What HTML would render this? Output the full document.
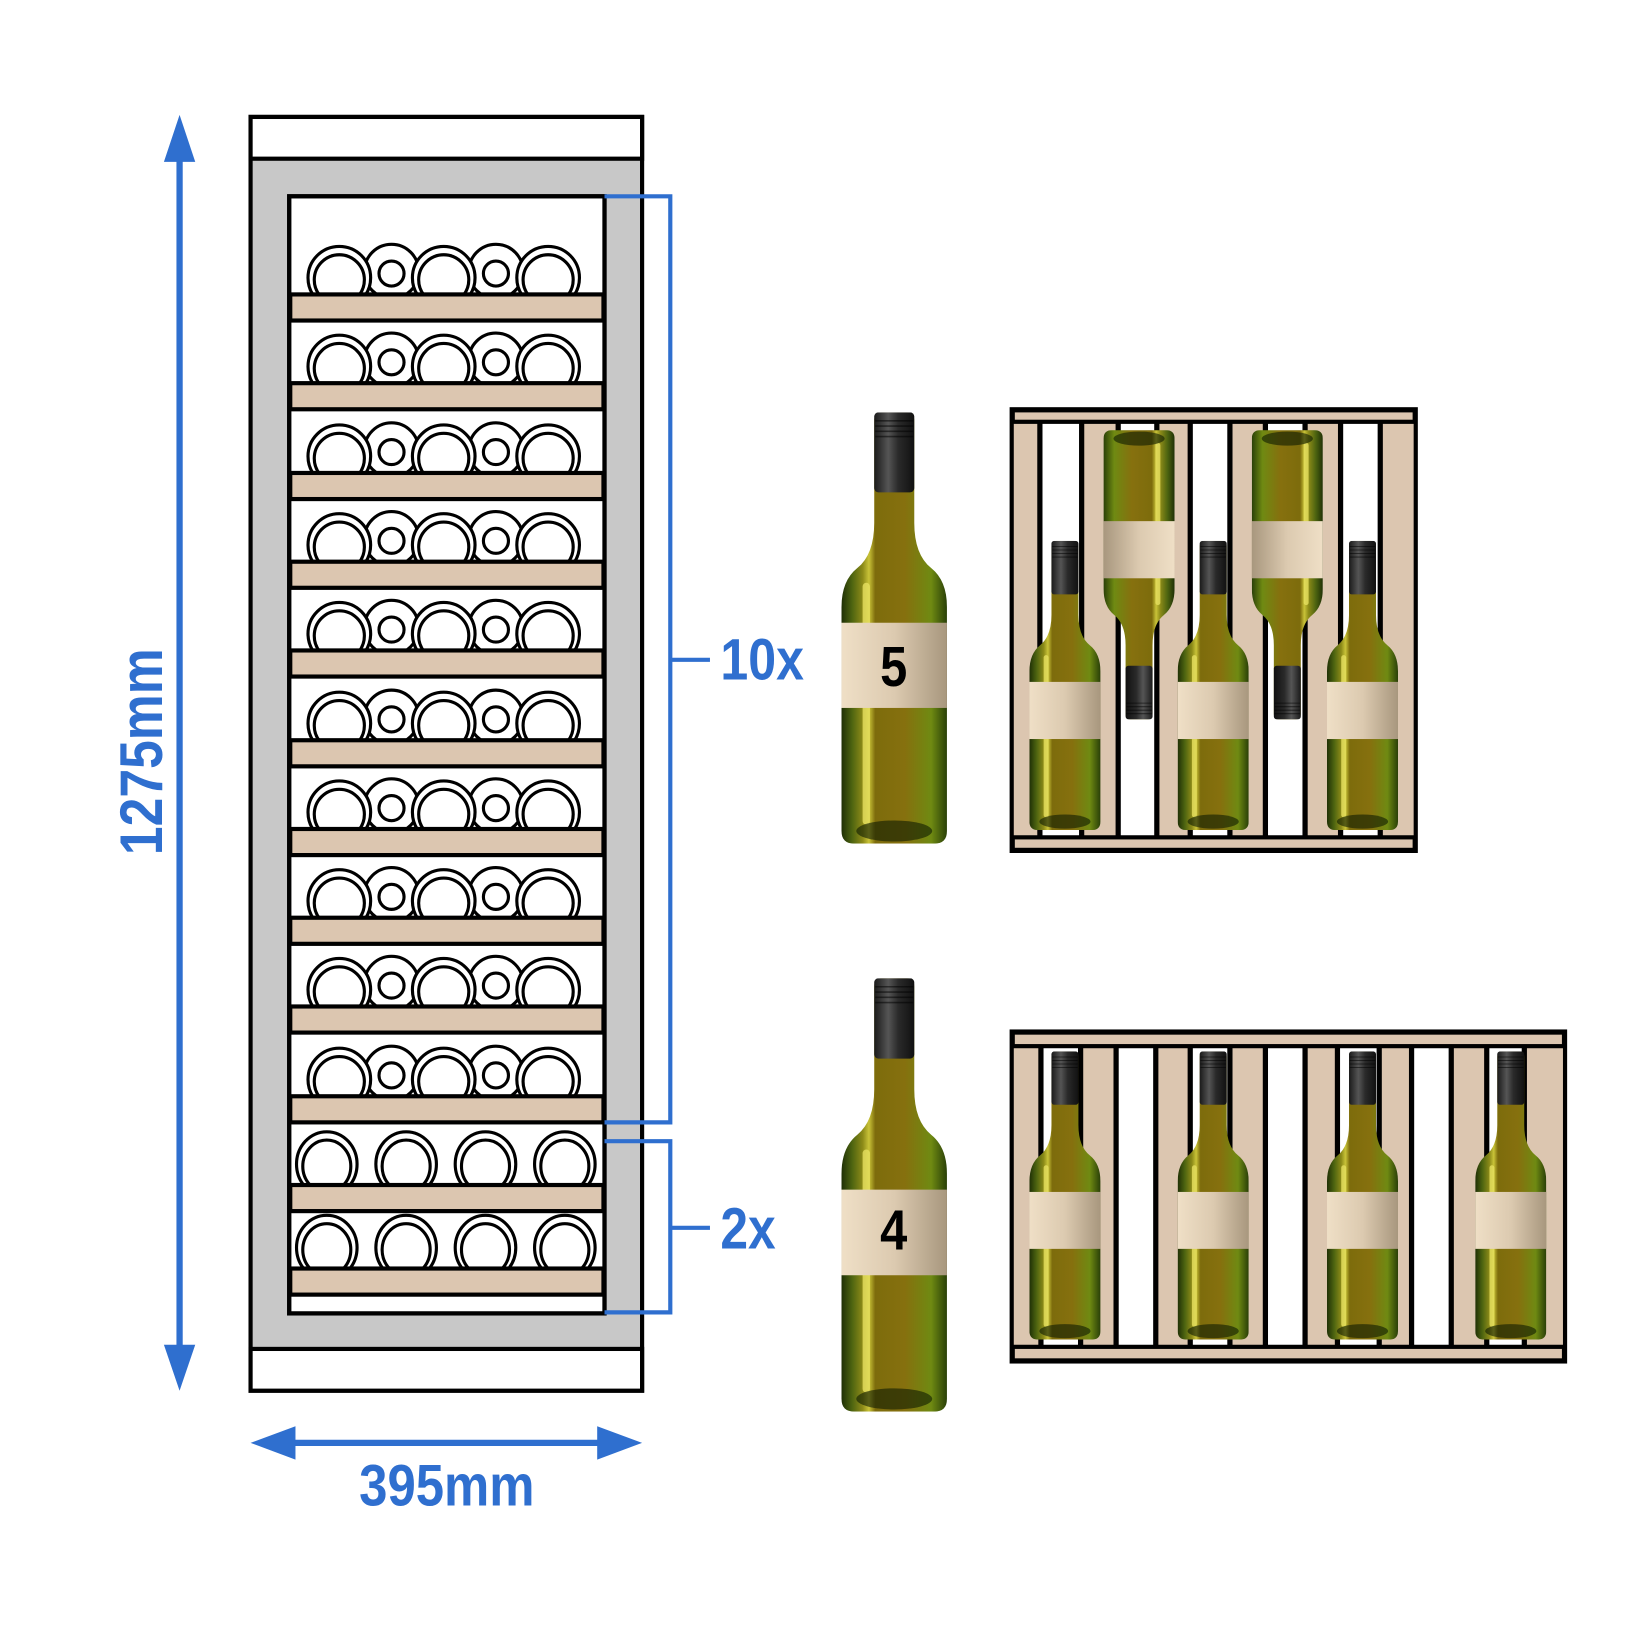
<!DOCTYPE html>
<html><head><meta charset="utf-8"><style>html,body{margin:0;padding:0;background:#fff}svg{display:block}</style></head>
<body>
<svg xmlns="http://www.w3.org/2000/svg" width="1635" height="1635" viewBox="0 0 1566 1566">
<defs>
<linearGradient id="glass" x1="0" x2="1" y1="0" y2="0">
<stop offset="0" stop-color="#1f3006"/><stop offset="0.1" stop-color="#4d6410"/><stop offset="0.2" stop-color="#8c8a18"/><stop offset="0.26" stop-color="#c9c338"/><stop offset="0.32" stop-color="#7d6c0c"/><stop offset="0.6" stop-color="#86700e"/><stop offset="0.85" stop-color="#6f8a12"/><stop offset="1" stop-color="#2a4008"/>
</linearGradient>
<linearGradient id="cap" x1="0" x2="1"><stop offset="0" stop-color="#1a1a1a"/><stop offset="0.35" stop-color="#555"/><stop offset="0.6" stop-color="#2a2a2a"/><stop offset="1" stop-color="#111"/></linearGradient>
<linearGradient id="lab" x1="0" x2="1"><stop offset="0" stop-color="#efdfc6"/><stop offset="0.5" stop-color="#dccab0"/><stop offset="1" stop-color="#a8977e"/></linearGradient>
<symbol id="bottle" viewBox="0 0 100 410" preserveAspectRatio="none">
<path d="M31,8 Q31,0 38,0 L62,0 Q69,0 69,8 L69,105 Q69,135 85,148 Q100,160 100,185 L100,398 Q100,410 88,410 L12,410 Q0,410 0,398 L0,185 Q0,160 15,148 Q31,135 31,105 Z" fill="url(#glass)"/>
<rect x="31" y="0" width="38" height="76" rx="4" fill="url(#cap)"/>
<g stroke="#000" stroke-opacity="0.5" stroke-width="1.5"><line x1="32" y1="8" x2="68" y2="8"/><line x1="32" y1="13" x2="68" y2="13"/><line x1="32" y1="18" x2="68" y2="18"/><line x1="32" y1="23" x2="68" y2="23"/></g>
<rect x="20" y="162" width="7" height="230" rx="3.5" fill="#e6e060" opacity="0.8"/>
<ellipse cx="50" cy="398" rx="36" ry="10" fill="#0d1a02" opacity="0.6"/>
<rect x="0" y="200" width="100" height="81" fill="url(#lab)"/>
</symbol>
<clipPath id="c1"><rect x="278" y="189" width="300" height="93"/></clipPath>
<g id="shelf">
<g clip-path="url(#c1)" fill="#fff" stroke="#000" stroke-width="3">
<circle cx="375" cy="260" r="26"/><circle cx="375" cy="262" r="12"/>
<circle cx="475" cy="260" r="26"/><circle cx="475" cy="262" r="12"/>
<circle cx="325" cy="266" r="30"/><circle cx="325" cy="268" r="24"/>
<circle cx="425" cy="266" r="30"/><circle cx="425" cy="268" r="24"/>
<circle cx="525" cy="266" r="30"/><circle cx="525" cy="268" r="24"/>
</g>
<rect x="278" y="282" width="300" height="25" fill="#dcc6b0" stroke="#000" stroke-width="4"/>
</g>
<clipPath id="c2"><rect x="278" y="1078" width="300" height="57"/></clipPath>
<g id="shelf2">
<g clip-path="url(#c2)" fill="#fff" stroke="#000" stroke-width="3">
<ellipse cx="313" cy="1115" rx="29" ry="31"/><ellipse cx="313" cy="1117" rx="23" ry="25"/>
<ellipse cx="389" cy="1115" rx="29" ry="31"/><ellipse cx="389" cy="1117" rx="23" ry="25"/>
<ellipse cx="465" cy="1115" rx="29" ry="31"/><ellipse cx="465" cy="1117" rx="23" ry="25"/>
<ellipse cx="541" cy="1115" rx="29" ry="31"/><ellipse cx="541" cy="1117" rx="23" ry="25"/>
</g>
<rect x="278" y="1135" width="300" height="25" fill="#dcc6b0" stroke="#000" stroke-width="4"/>
</g>
</defs>

<line x1="172" y1="145" x2="172" y2="1298" stroke="#2f6fcf" stroke-width="6"/>
<polygon points="172,110 157,155 187,155" fill="#2f6fcf"/>
<polygon points="172,1332 157,1288 187,1288" fill="#2f6fcf"/>
<text transform="translate(155,720) rotate(-90)" text-anchor="middle" font-family="Liberation Sans Narrow, Liberation Sans, sans-serif" font-weight="bold" font-size="58" fill="#2f6fcf" textLength="198" lengthAdjust="spacingAndGlyphs">1275mm</text>

<rect x="240" y="112" width="375" height="1220" fill="#c8c8c8" stroke="#000" stroke-width="4"/>
<rect x="240" y="112" width="375" height="40" fill="#fff" stroke="#000" stroke-width="4"/>
<rect x="240" y="1292" width="375" height="40" fill="#fff" stroke="#000" stroke-width="4"/>
<rect x="277" y="188" width="302" height="1070" fill="#fff" stroke="#000" stroke-width="4"/>
<use href="#shelf"/>
<use href="#shelf" y="85"/>
<use href="#shelf" y="171"/>
<use href="#shelf" y="256"/>
<use href="#shelf" y="341"/>
<use href="#shelf" y="427"/>
<use href="#shelf" y="512"/>
<use href="#shelf" y="597"/>
<use href="#shelf" y="682"/>
<use href="#shelf" y="768"/>
<use href="#shelf2"/>
<use href="#shelf2" y="80"/>
<rect x="277" y="188" width="302" height="1070" fill="none" stroke="#000" stroke-width="4"/>

<polyline points="579,188 642,188 642,1075 579,1075" fill="none" stroke="#2f6fcf" stroke-width="4"/>
<line x1="642" y1="632" x2="680" y2="632" stroke="#2f6fcf" stroke-width="4"/>
<text x="690" y="651" font-family="Liberation Sans Narrow, Liberation Sans, sans-serif" font-weight="bold" font-size="56" fill="#2f6fcf" textLength="80" lengthAdjust="spacingAndGlyphs">10x</text>
<polyline points="579,1093 642,1093 642,1257 579,1257" fill="none" stroke="#2f6fcf" stroke-width="4"/>
<line x1="642" y1="1176" x2="680" y2="1176" stroke="#2f6fcf" stroke-width="4"/>
<text x="690" y="1196" font-family="Liberation Sans Narrow, Liberation Sans, sans-serif" font-weight="bold" font-size="56" fill="#2f6fcf" textLength="53" lengthAdjust="spacingAndGlyphs">2x</text>

<line x1="275" y1="1382" x2="580" y2="1382" stroke="#2f6fcf" stroke-width="6"/>
<polygon points="240,1382 283,1366 283,1398" fill="#2f6fcf"/>
<polygon points="615,1382 572,1366 572,1398" fill="#2f6fcf"/>
<text x="428" y="1442" text-anchor="middle" font-family="Liberation Sans Narrow, Liberation Sans, sans-serif" font-weight="bold" font-size="56" fill="#2f6fcf" textLength="168" lengthAdjust="spacingAndGlyphs">395mm</text>

<use href="#bottle" x="806" y="395" width="101" height="413"/>
<text x="856" y="657" text-anchor="middle" font-family="Liberation Sans Narrow, Liberation Sans, sans-serif" font-weight="bold" font-size="54" fill="#000" textLength="26" lengthAdjust="spacingAndGlyphs">5</text>
<use href="#bottle" x="806" y="937" width="101" height="415"/>
<text x="856" y="1197" text-anchor="middle" font-family="Liberation Sans Narrow, Liberation Sans, sans-serif" font-weight="bold" font-size="54" fill="#000" textLength="26" lengthAdjust="spacingAndGlyphs">4</text>

<g>
<rect x="968" y="391" width="389" height="425" fill="#dcc6b0"/>
<g fill="#fff">
<rect x="994" y="404" width="42" height="398"/><rect x="1071" y="404" width="37" height="398"/><rect x="1140" y="404" width="38" height="398"/><rect x="1212" y="404" width="38" height="398"/><rect x="1282" y="404" width="38" height="398"/>
</g>
<g stroke="#000" stroke-width="5">
<line x1="996" y1="404" x2="996" y2="802"/><line x1="1036" y1="404" x2="1036" y2="802"/><line x1="1071" y1="404" x2="1071" y2="802"/><line x1="1108" y1="404" x2="1108" y2="802"/><line x1="1140" y1="404" x2="1140" y2="802"/><line x1="1178" y1="404" x2="1178" y2="802"/><line x1="1212" y1="404" x2="1212" y2="802"/><line x1="1250" y1="404" x2="1250" y2="802"/><line x1="1284" y1="404" x2="1284" y2="802"/><line x1="1322" y1="404" x2="1322" y2="802"/>
</g>
<use href="#bottle" x="986" y="518" width="68" height="277"/>
<use href="#bottle" x="1128" y="518" width="68" height="277"/>
<use href="#bottle" x="1271" y="518" width="68" height="277"/>
<use href="#bottle" x="-1125" y="-689" width="68" height="277" transform="rotate(180)"/>
<use href="#bottle" x="-1267" y="-689" width="68" height="277" transform="rotate(180)"/>
<rect x="970" y="393" width="385" height="11" fill="#dcc6b0" stroke="#000" stroke-width="4"/>
<rect x="970" y="802" width="385" height="12" fill="#dcc6b0" stroke="#000" stroke-width="4"/>
<rect x="969" y="392" width="387" height="423" fill="none" stroke="#000" stroke-width="4"/>
</g>

<g>
<rect x="968" y="987" width="532" height="318" fill="#dcc6b0"/>
<g fill="#fff">
<rect x="997" y="1003" width="38" height="287"/><rect x="1069" y="1003" width="38" height="287"/><rect x="1140" y="1003" width="38" height="287"/><rect x="1212" y="1003" width="38" height="287"/><rect x="1281" y="1003" width="40" height="287"/><rect x="1352" y="1003" width="38" height="287"/><rect x="1424" y="1003" width="36" height="287"/>
</g>
<g stroke="#000" stroke-width="5">
<line x1="997" y1="1003" x2="997" y2="1290"/><line x1="1035" y1="1003" x2="1035" y2="1290"/><line x1="1069" y1="1003" x2="1069" y2="1290"/><line x1="1107" y1="1003" x2="1107" y2="1290"/><line x1="1140" y1="1003" x2="1140" y2="1290"/><line x1="1178" y1="1003" x2="1178" y2="1290"/><line x1="1212" y1="1003" x2="1212" y2="1290"/><line x1="1250" y1="1003" x2="1250" y2="1290"/><line x1="1281" y1="1003" x2="1281" y2="1290"/><line x1="1321" y1="1003" x2="1321" y2="1290"/><line x1="1352" y1="1003" x2="1352" y2="1290"/><line x1="1390" y1="1003" x2="1390" y2="1290"/><line x1="1424" y1="1003" x2="1424" y2="1290"/><line x1="1460" y1="1003" x2="1460" y2="1290"/>
</g>
<use href="#bottle" x="986" y="1007" width="68" height="276"/>
<use href="#bottle" x="1128" y="1007" width="68" height="276"/>
<use href="#bottle" x="1271" y="1007" width="68" height="276"/>
<use href="#bottle" x="1413" y="1007" width="68" height="276"/>
<rect x="970" y="989" width="528" height="13" fill="#dcc6b0" stroke="#000" stroke-width="4"/>
<rect x="970" y="1290" width="528" height="13" fill="#dcc6b0" stroke="#000" stroke-width="4"/>
<rect x="969" y="988" width="530" height="316" fill="none" stroke="#000" stroke-width="4"/>
</g>
</svg>
</body></html>
